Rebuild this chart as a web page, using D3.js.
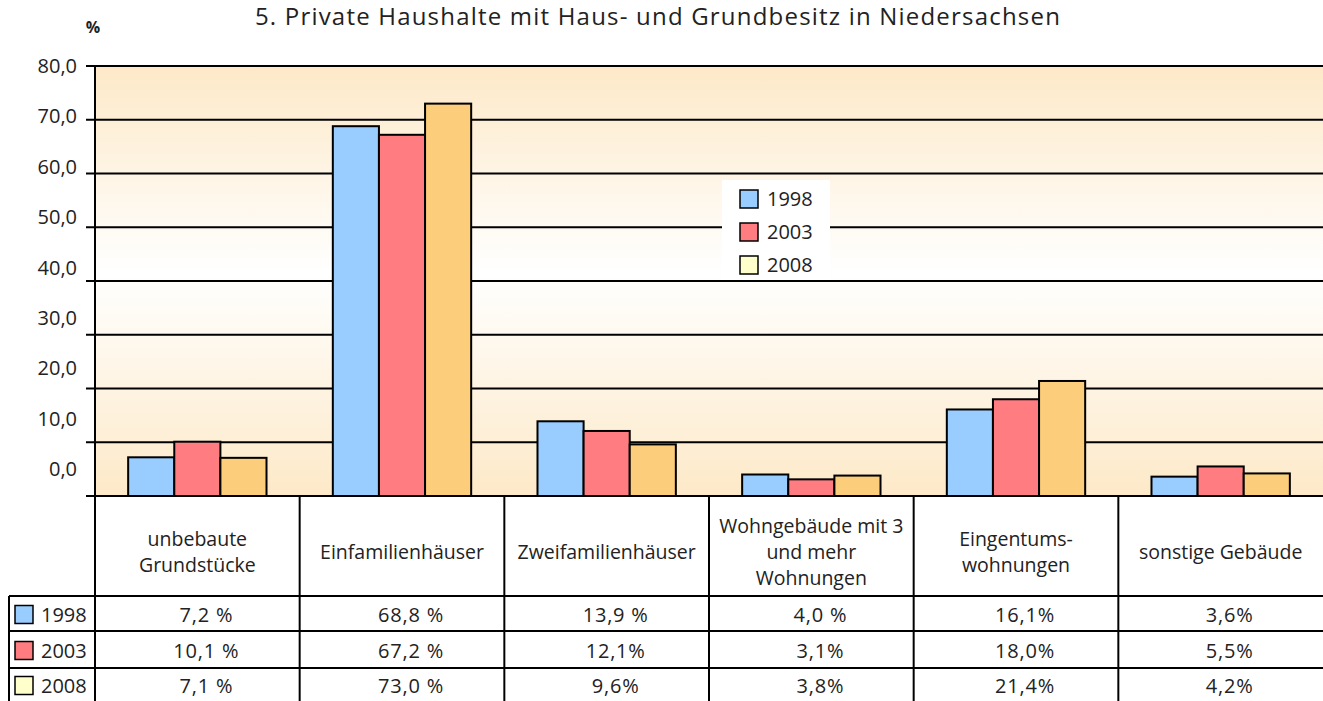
<!DOCTYPE html>
<meta charset="utf-8">
<style>
body { margin: 0; background: #fff; }
text { font-family: "Open Sans", "Noto Sans", sans-serif; fill: #222; }
</style>
<script src="https://cdn.jsdelivr.net/npm/d3@7"></script>
<body>
<script>
// data
var categories = ["unbebaute Grundstücke", "Einfamilienhäuser", "Zweifamilienhäuser",
  "Wohngebäude mit 3 und mehr Wohnungen", "Eingentums- wohnungen", "sonstige Gebäude"];
var categoryLines = [["unbebaute", "Grundstücke"], ["Einfamilienhäuser"], ["Zweifamilienhäuser"],
  ["Wohngebäude mit 3", "und mehr", "Wohnungen"], ["Eingentums-", "wohnungen"], ["sonstige Gebäude"]];
var years = ["1998", "2003", "2008"];
var v1998 = [7.2, 68.8, 13.9, 4.0, 16.1, 3.6];
var v2003 = [10.1, 67.2, 12.1, 3.1, 18.0, 5.5];
var v2008 = [7.1, 73.0, 9.6, 3.8, 21.4, 4.2];
var t1998 = ["7,2 %", "68,8 %", "13,9 %", "4,0 %", "16,1%", "3,6%"];
var t2003 = ["10,1 %", "67,2 %", "12,1%", "3,1%", "18,0%", "5,5%"];
var t2008 = ["7,1 %", "73,0 %", "9,6%", "3,8%", "21,4%", "4,2%"];
var yTicks = [0, 10, 20, 30, 40, 50, 60, 70, 80];

var series = [v1998, v2003, v2008];
var tableText = [t1998, t2003, t2008];
var barColors = ["#99ccff", "#ff7c80", "#fccd7a"];
var keyColors = ["#99ccff", "#ff7c80", "#ffffcc"];

var W = 1323, H = 701;
var pLeft = 95, pRight = 1323, pTop = 66, pBottom = 496;

var svg = d3.select("body").append("svg").attr("width", W).attr("height", H);

var y = d3.scaleLinear().domain([0, 80]).range([pBottom, pTop]);
var yLab = d3.scaleLinear().domain([0, 80]).range([469, 66]); // labels drift upward in the original
var x0 = d3.scaleBand().domain(categories).range([pLeft, pRight]);
var gap = x0.bandwidth() * 0.162;
var x1 = d3.scaleBand().domain(years).range([gap, x0.bandwidth() - gap]);

// background gradient
var grad = svg.append("defs").append("linearGradient").attr("id", "bg")
  .attr("x1", 0).attr("y1", 0).attr("x2", 0).attr("y2", 1);
grad.append("stop").attr("offset", "0%").attr("stop-color", "#fde9c8");
grad.append("stop").attr("offset", "48%").attr("stop-color", "#ffffff");
grad.append("stop").attr("offset", "100%").attr("stop-color", "#fde9c8");
svg.append("rect").attr("x", pLeft).attr("y", pTop).attr("width", pRight - pLeft)
  .attr("height", pBottom - pTop).attr("fill", "url(#bg)");

// title
svg.append("text").attr("x", 658).attr("y", 25).attr("text-anchor", "middle")
  .style("font-size", "24px").style("letter-spacing", "1.2px")
  .text("5. Private Haushalte mit Haus- und Grundbesitz in Niedersachsen");
svg.append("text").attr("x", 93).attr("y", 33).attr("text-anchor", "middle")
  .style("font-size", "16px").style("font-weight", "bold").text("%");

// gridlines + ticks
svg.append("g").selectAll("line").data(yTicks).enter().append("line")
  .attr("x1", pLeft - 9).attr("x2", pRight)
  .attr("y1", function(d) { return y(d); }).attr("y2", function(d) { return y(d); })
  .attr("stroke", "#000").attr("stroke-width", 2);
svg.append("g").selectAll("text").data(yTicks).enter().append("text")
  .attr("x", 77).attr("y", function(d) { return yLab(d); }).attr("dy", "0.35em")
  .attr("text-anchor", "end").style("font-size", "20px")
  .text(function(d) { return d3.format(".1f")(d).replace(".", ","); });

// bars
var groups = svg.append("g").selectAll("g").data(categories).enter().append("g")
  .attr("transform", function(d) { return "translate(" + x0(d) + ",0)"; });
groups.selectAll("rect").data(function(d, i) {
    return years.map(function(yr, j) { return { year: yr, j: j, v: series[j][i] }; });
  }).enter().append("rect")
  .attr("x", function(d) { return x1(d.year); })
  .attr("y", function(d) { return y(d.v); })
  .attr("width", x1.bandwidth())
  .attr("height", function(d) { return pBottom - y(d.v); })
  .attr("fill", function(d) { return barColors[d.j]; })
  .attr("stroke", "#000").attr("stroke-width", 2);

// legend
var lg = svg.append("g").attr("transform", "translate(722,180)");
lg.append("rect").attr("width", 108).attr("height", 100).attr("fill", "#fff");
var li = lg.selectAll("g").data(years).enter().append("g")
  .attr("transform", function(d, i) { return "translate(18," + (10 + i * 33) + ")"; });
li.append("rect").attr("width", 18).attr("height", 18)
  .attr("fill", function(d, i) { return keyColors[i]; }).attr("stroke", "#000").attr("stroke-width", 1.5);
li.append("text").attr("x", 27).attr("y", 9).attr("dy", "0.35em").style("font-size", "20px")
  .text(function(d) { return d; });

// table
var rowY = [596, 631, 668, 701];
var tbl = svg.append("g");
tbl.append("line").attr("x1", pLeft).attr("x2", pLeft).attr("y1", pTop).attr("y2", H)
  .attr("stroke", "#000").attr("stroke-width", 2);
tbl.selectAll("line.col").data(categories.slice(1)).enter().append("line").attr("class", "col")
  .attr("x1", function(d) { return x0(d); }).attr("x2", function(d) { return x0(d); })
  .attr("y1", pBottom).attr("y2", H).attr("stroke", "#000").attr("stroke-width", 2);
tbl.selectAll("line.row").data(rowY.slice(0, 3)).enter().append("line").attr("class", "row")
  .attr("x1", 9).attr("x2", pRight).attr("y1", function(d) { return d; }).attr("y2", function(d) { return d; })
  .attr("stroke", "#000").attr("stroke-width", 2);
tbl.append("line").attr("x1", 9).attr("x2", 9).attr("y1", rowY[0]).attr("y2", H)
  .attr("stroke", "#000").attr("stroke-width", 2);

// header labels
svg.append("g").selectAll("text").data(categories).enter().append("text")
  .attr("x", function(d) { return x0(d) + x0.bandwidth() / 2; })
  .attr("text-anchor", "middle").style("font-size", "19.5px")
  .each(function(d, i) {
    var lines = categoryLines[i];
    var cy = 552 - (lines.length - 1) * 13;
    d3.select(this).selectAll("tspan").data(lines).enter().append("tspan")
      .attr("x", x0(d) + x0.bandwidth() / 2)
      .attr("y", function(l, k) { return cy + k * 26; }).attr("dy", "0.35em")
      .text(function(l) { return l; });
  });

// rows
years.forEach(function(yr, j) {
  var cy = (rowY[j] + rowY[j + 1]) / 2 + 1;
  svg.append("rect").attr("x", 15).attr("y", cy - 9).attr("width", 18).attr("height", 18)
    .attr("fill", keyColors[j]).attr("stroke", "#000").attr("stroke-width", 1.5);
  svg.append("text").attr("x", 41).attr("y", cy).attr("dy", "0.35em").style("font-size", "20px").text(yr);
  svg.append("g").selectAll("text").data(categories).enter().append("text")
    .attr("x", function(d) { return x0(d) + x0.bandwidth() / 2 + 9; })
    .attr("y", cy).attr("dy", "0.35em").attr("text-anchor", "middle")
    .style("font-size", "20px").style("letter-spacing", "0.8px")
    .text(function(d, i) { return tableText[j][i]; });
});
</script>
</body>
